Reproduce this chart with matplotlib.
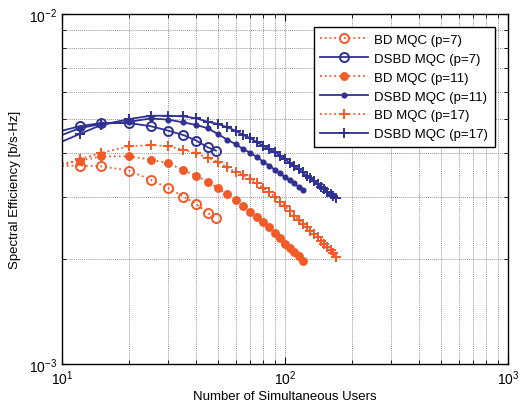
import matplotlib

matplotlib.use("Agg")
import matplotlib.pyplot as plt  # noqa: E402
from matplotlib.ticker import LogLocator, NullFormatter  # noqa: E402

# x = 10 is the left axis edge (line only, no marker there)
users_p7 = [10, 12, 15, 20, 25, 30, 35, 40, 45, 49]
users_p11 = [10, 12, 15, 20, 25, 30, 35, 40, 45, 50, 55, 60, 65, 70, 75, 80,
             85, 90, 95, 100, 105, 110, 115, 121]
users_p17 = [10, 12, 15, 20, 25, 30, 35, 40, 45, 50, 55, 60, 65, 70, 75, 80,
             85, 90, 95, 100, 105, 110, 115, 120, 125, 130, 135, 140, 145,
             150, 155, 160, 165, 170]

# spectral efficiency, units of 1e-3 b/s-Hz
bd_p7 = [3.68, 3.69, 3.67, 3.57, 3.36, 3.18, 3.01, 2.865, 2.70, 2.61]
dsbd_p7 = [4.64, 4.78, 4.88, 4.88, 4.78, 4.64, 4.51, 4.35, 4.16, 4.07]
bd_p11 = [3.74, 3.81, 3.92, 3.92, 3.835, 3.745, 3.58, 3.45, 3.32, 3.18,
          3.06, 2.94, 2.82, 2.72, 2.625, 2.54, 2.46, 2.36, 2.29, 2.20,
          2.145, 2.09, 2.035, 1.97]
dsbd_p11 = [4.51, 4.72, 4.85, 4.92, 5.03, 4.99, 4.90, 4.82, 4.715, 4.54,
            4.375, 4.25, 4.11, 4.01, 3.90, 3.78, 3.69, 3.59, 3.51, 3.415,
            3.345, 3.28, 3.21, 3.148]
bd_p17 = [3.68, 3.85, 4.01, 4.19, 4.22, 4.19, 4.09, 4.00, 3.88, 3.78,
          3.65, 3.53, 3.47, 3.38, 3.28, 3.18, 3.095, 3.01, 2.91, 2.83,
          2.73, 2.655, 2.585, 2.52, 2.46, 2.405, 2.35, 2.30, 2.25, 2.205,
          2.165, 2.12, 2.07, 2.02]
dsbd_p17 = [4.32, 4.54, 4.82, 5.01, 5.12, 5.12, 5.10, 5.035, 4.92, 4.85,
            4.75, 4.64, 4.51, 4.415, 4.30, 4.20, 4.11, 4.03, 3.94, 3.85,
            3.76, 3.68, 3.60, 3.525, 3.455, 3.39, 3.33, 3.27, 3.21, 3.16,
            3.11, 3.065, 3.02, 2.975]

labels = ["BD MQC (p=7)", "DSBD MQC (p=7)", "BD MQC (p=11)",
          "DSBD MQC (p=11)", "BD MQC (p=17)", "DSBD MQC (p=17)"]

RED = "#F15A29"
BLUE = "#2E3192"


def main() -> None:
    plt.rcParams["font.family"] = ["Liberation Sans", "DejaVu Sans"]
    plt.rcParams["mathtext.fontset"] = "custom"
    plt.rcParams["mathtext.rm"] = "Liberation Sans"
    plt.rcParams["mathtext.it"] = "Liberation Sans"

    fig = plt.figure(figsize=(5.26, 4.10), dpi=100)
    ax = fig.add_axes([62 / 526, 1 - 365 / 410, 446 / 526, 350 / 410])

    series = [
        (users_p7, bd_p7, RED, ":", "o", 6.5, "none"),
        (users_p7, dsbd_p7, BLUE, "-", "o", 6.5, "none"),
        (users_p11, bd_p11, RED, ":", "o", 5, RED),
        (users_p11, dsbd_p11, BLUE, "-", "o", 3, BLUE),
        (users_p17, bd_p17, RED, ":", "+", 7.5, RED),
        (users_p17, dsbd_p17, BLUE, "-", "+", 7.5, BLUE),
    ]
    for (x, y, col, ls, mk, ms, mfc), lab in zip(series, labels):
        ax.plot(x, [v * 1e-3 for v in y], color=col, linestyle=ls,
                linewidth=1.3, marker=mk, markersize=ms, markerfacecolor=mfc,
                markeredgecolor=col, markeredgewidth=1.4,
                markevery=slice(1, None), label=lab)

    ax.set_xscale("log")
    ax.set_yscale("log")
    ax.set_xlim(10, 1000)
    ax.set_ylim(1e-3, 1e-2)
    ax.yaxis.set_major_locator(LogLocator(base=10, numticks=5))
    ax.yaxis.set_minor_locator(LogLocator(base=10, subs=range(2, 10), numticks=5))
    ax.yaxis.set_minor_formatter(NullFormatter())
    ax.xaxis.set_minor_formatter(NullFormatter())

    ax.grid(True, which="both", color="#999999", linestyle=(0, (1, 1)),
            linewidth=0.7)
    ax.tick_params(which="both", direction="in", top=True, right=True,
                   labelsize=10, colors="black")
    ax.tick_params(which="major", length=5)
    ax.tick_params(which="minor", length=3)
    for sp in ax.spines.values():
        sp.set_linewidth(1.0)

    ax.set_xlabel("Number of Simultaneous Users", fontsize=9.5, labelpad=2)
    ax.set_ylabel("Spectral Efficiency [b/s-Hz]", fontsize=9.5, labelpad=6)

    leg = ax.legend(loc="upper right", fontsize=9.5, handlelength=3.6,
                    numpoints=1, fancybox=False, framealpha=1,
                    edgecolor="black", labelspacing=0.5,
                    borderaxespad=1.0, handletextpad=0.5, borderpad=0.5)
    leg.get_frame().set_linewidth(1.0)

    fig.savefig("out.png", dpi=100)
    plt.close(fig)


if __name__ == "__main__":
    main()
